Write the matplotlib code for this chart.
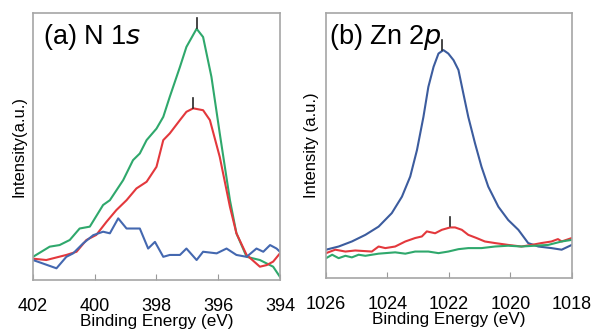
import numpy as np
import matplotlib
matplotlib.use("Agg")
import matplotlib.pyplot as plt

plt.rcParams.update({
    "font.family": ["Liberation Sans", "DejaVu Sans"],
    "figure.dpi": 100, "savefig.dpi": 100})

GREEN = "#2fa86c"
RED = "#e3383c"
BLUE = "#4468b0"
BLUE_DARK = "#3c5c9e"

# ---- (a) N 1s ----
n_green_e = [402.0, 401.46, 401.14, 400.81, 400.49, 400.16, 399.73, 399.51, 399.08, 398.76,
             398.54, 398.32, 398.0, 397.78, 397.57, 397.24, 397.03, 396.70, 396.49, 396.22,
             395.95, 395.62, 395.41, 395.08, 394.65, 394.22, 394.0]
n_green_i = [0.087, 0.125, 0.131, 0.150, 0.193, 0.200, 0.281, 0.299, 0.374, 0.449,
             0.474, 0.524, 0.567, 0.611, 0.686, 0.798, 0.873, 0.941, 0.910, 0.761,
             0.549, 0.299, 0.175, 0.087, 0.075, 0.050, 0.012]

n_red_e = [402.0, 401.57, 400.92, 400.59, 400.27, 399.95, 399.62, 399.30, 398.97, 398.65,
           398.32, 398.0, 397.78, 397.57, 397.24, 397.03, 396.81, 396.49, 396.27, 395.95,
           395.62, 395.41, 395.08, 394.65, 394.43, 394.22, 394.0]
n_red_i = [0.080, 0.075, 0.094, 0.106, 0.150, 0.169, 0.218, 0.262, 0.299, 0.343,
           0.368, 0.424, 0.524, 0.549, 0.599, 0.630, 0.643, 0.636, 0.599, 0.461,
           0.274, 0.175, 0.094, 0.050, 0.056, 0.069, 0.100]

n_blue_e = [402.0, 401.68, 401.24, 400.92, 400.70, 400.38, 400.05, 399.73, 399.51, 399.24,
            398.97, 398.54, 398.27, 398.05, 397.78, 397.57, 397.24, 397.03, 396.70, 396.49,
            396.05, 395.73, 395.41, 395.08, 394.76, 394.54, 394.32, 394.11, 394.0]
n_blue_i = [0.075, 0.062, 0.044, 0.087, 0.100, 0.137, 0.168, 0.181, 0.175, 0.231,
            0.193, 0.193, 0.118, 0.143, 0.087, 0.094, 0.094, 0.118, 0.075, 0.106,
            0.100, 0.118, 0.094, 0.087, 0.118, 0.106, 0.131, 0.118, 0.106]

n_peak_e = [396.70, 396.83]
n_peak_i = [0.955, 0.655]

# ---- (b) Zn 2p ----
z_blue_e = [1026.0, 1025.59, 1025.16, 1024.72, 1024.29, 1023.86, 1023.53, 1023.26, 1023.04, 1022.83,
            1022.67, 1022.50, 1022.34, 1022.18, 1022.02, 1021.85, 1021.69, 1021.53, 1021.37, 1021.15,
            1020.94, 1020.72, 1020.39, 1020.07, 1019.74, 1019.42, 1019.09, 1018.66, 1018.33, 1018.0]
z_blue_i = [0.107, 0.119, 0.138, 0.163, 0.194, 0.245, 0.307, 0.383, 0.483, 0.608,
            0.721, 0.797, 0.847, 0.860, 0.847, 0.822, 0.785, 0.696, 0.608, 0.508,
            0.420, 0.345, 0.269, 0.219, 0.182, 0.132, 0.119, 0.113, 0.107, 0.125]

z_red_e = [1026.0, 1025.70, 1025.37, 1025.05, 1024.51, 1024.29, 1024.07, 1023.75, 1023.42, 1023.10,
           1022.88, 1022.72, 1022.45, 1022.23, 1021.96, 1021.80, 1021.58, 1021.37, 1021.10, 1020.83,
           1020.50, 1020.07, 1019.64, 1019.31, 1018.99, 1018.66, 1018.45, 1018.33, 1018.0]
z_red_i = [0.094, 0.107, 0.100, 0.104, 0.100, 0.119, 0.113, 0.119, 0.138, 0.151,
           0.157, 0.176, 0.169, 0.182, 0.191, 0.191, 0.182, 0.163, 0.151, 0.138,
           0.132, 0.125, 0.119, 0.125, 0.132, 0.138, 0.147, 0.138, 0.151]

z_green_e = [1026.0, 1025.80, 1025.59, 1025.37, 1025.16, 1024.94, 1024.72, 1024.29, 1023.75, 1023.42,
             1023.10, 1022.67, 1022.34, 1022.02, 1021.69, 1021.37, 1020.94, 1020.50, 1020.07, 1019.64,
             1019.20, 1018.77, 1018.33, 1018.0]
z_green_i = [0.075, 0.088, 0.075, 0.084, 0.078, 0.088, 0.084, 0.092, 0.097, 0.092,
             0.100, 0.100, 0.094, 0.100, 0.109, 0.113, 0.113, 0.119, 0.122, 0.119,
             0.122, 0.125, 0.138, 0.144]

z_peak_e = [1022.22, 1021.96]
z_peak_i = [0.872, 0.207]

fig = plt.figure(figsize=(5.95, 3.33))
ax1 = fig.add_axes([0.0555, 0.159, 0.415, 0.802])
ax2 = fig.add_axes([0.548, 0.165, 0.413, 0.796])

ax1.plot(n_green_e, n_green_i, color=GREEN, lw=1.5)
ax1.plot(n_red_e, n_red_i, color=RED, lw=1.5)
ax1.plot(n_blue_e, n_blue_i, color=BLUE, lw=1.5)
for e, i in zip(n_peak_e, n_peak_i):
    ax1.plot([e, e], [i - 0.012, i + 0.025], color="0.15", lw=1.2)

ax2.plot(z_blue_e, z_blue_i, color=BLUE_DARK, lw=1.5)
ax2.plot(z_red_e, z_red_i, color=RED, lw=1.5)
ax2.plot(z_green_e, z_green_i, color=GREEN, lw=1.5)
for e, i in zip(z_peak_e, z_peak_i):
    ax2.plot([e, e], [i - 0.012, i + 0.025], color="0.15", lw=1.2)

for ax, lim, ticks, lab, title, tx in [
        (ax1, (402, 394), [402, 400, 398, 396, 394], "Intensity(a.u.)", "(a) N 1$\\it{s}$", 0.04),
        (ax2, (1026, 1018), [1026, 1024, 1022, 1020, 1018], "Intensity (a.u.)", "(b) Zn 2$\\it{p}$", 0.01)]:
    ax.set_xlim(*lim)
    ax.set_ylim(0, 1)
    ax.set_xticks(ticks)
    ax.set_yticks([])
    ax.tick_params(axis="x", direction="in", length=4, width=0.8, color="0.6",
                   pad=13, labelsize=13)
    for s in ax.spines.values():
        s.set_color("0.65")
        s.set_linewidth(1.2)
    ax.set_xlabel("Binding Energy (eV)", fontsize=12.3, labelpad=-1)
    ax.set_ylabel(lab, fontsize=12, labelpad=5)
    ax.text(tx, 0.91, title, transform=ax.transAxes,
            fontsize=19.5, va="center", ha="left")

fig.savefig("out.png")
